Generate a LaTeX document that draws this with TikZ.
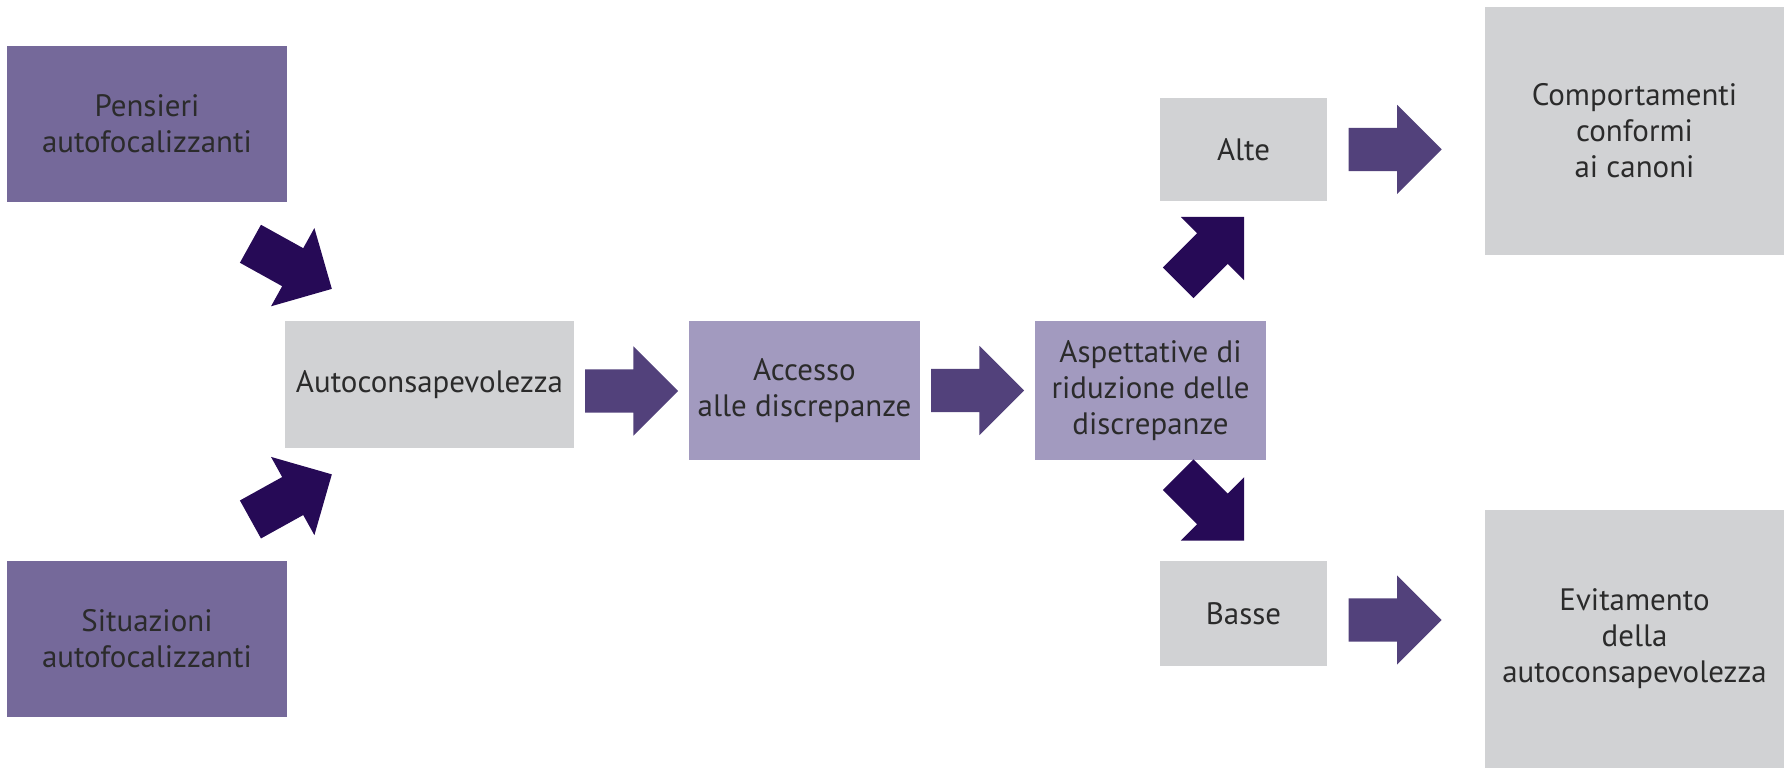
\documentclass[tikz,border=0pt]{standalone}
\usepackage{fontspec}
\setmainfont{PT Sans}
\usetikzlibrary{shapes.arrows}
\usetikzlibrary{calc}

\definecolor{darkbox}{HTML}{75699A}
\definecolor{lightbox}{HTML}{A29ABF}
\definecolor{greybox}{HTML}{D1D2D4}
\definecolor{flowarrow}{HTML}{52417B}
\definecolor{splitarrow}{HTML}{260A56}
\definecolor{boxtext}{HTML}{2B2B2B}

\tikzset{
  box/.style={rectangle,inner sep=0pt,align=center,text=boxtext,font=\fontsize{8.8}{10.2}\selectfont},
  bigarrow/.style={single arrow,draw=none,inner xsep=0pt,inner ysep=0.21cm,minimum height=0.93cm,
    single arrow head extend=0.23cm,single arrow tip angle=90,rotate=#1,xshift=-0.107cm},
  bigarrow/.default=0
}

\begin{document}
\begin{tikzpicture}[x=0.01cm,y=-0.01cm]
\useasboundingbox (0,0) rectangle (1789,768);

% left column
\node[box,fill=darkbox,minimum width=2.8cm,minimum height=1.55cm] (pens) at (147,124) {Pensieri\\autofocalizzanti};
\node[box,fill=darkbox,minimum width=2.8cm,minimum height=1.56cm] (situ) at (147,639) {Situazioni\\autofocalizzanti};

% middle row
\node[box,fill=greybox,minimum width=2.89cm,minimum height=1.27cm] (auto) at (429.5,384.5) {Autoconsapevolezza};
\node[box,fill=lightbox,minimum width=2.31cm,minimum height=1.39cm] (acc) at (804.5,390.5) {Accesso\\alle discrepanze};
\node[box,fill=lightbox,minimum width=2.31cm,minimum height=1.39cm] (asp) at (1150.5,390.5) {Aspettative di\\riduzione delle\\discrepanze};

% outcomes
\node[box,fill=greybox,minimum width=1.67cm,minimum height=1.03cm] (alte) at (1243.5,149.5) {Alte};
\node[box,fill=greybox,minimum width=1.67cm,minimum height=1.05cm] (basse) at (1243.5,613.5) {Basse};
\node[box,fill=greybox,minimum width=2.99cm,minimum height=2.48cm] (comp) at (1634.5,131) {Comportamenti\\conformi\\ai canoni};
\node[box,fill=greybox,minimum width=2.99cm,minimum height=2.58cm] (evit) at (1634.5,639) {Evitamento\\della\\autoconsapevolezza};

% arrows
\node[xshift=0.05cm,yshift=-0.05cm,bigarrow=-29,fill=splitarrow] (p2a) at ($(pens.south east)!0.5!(auto.north west)$) {};
\node[xshift=0.05cm,yshift=0.075cm,bigarrow=29,fill=splitarrow] (s2a) at ($(situ.north east)!0.5!(auto.south west)$) {};
\node[yshift=-0.035cm,bigarrow,fill=flowarrow] (a2c) at ($(auto.east)!0.5!(acc.west)$) {};
\node[bigarrow,fill=flowarrow] (c2s) at ($(acc.east)!0.5!(asp.west)$) {};
\node[xshift=0.14cm,yshift=0.11cm,bigarrow=45,fill=splitarrow] (s2h) at ($(asp.north)!0.5!(alte.south)$) {};
\node[xshift=0.14cm,yshift=0.03cm,bigarrow=-45,fill=splitarrow] (s2l) at ($(asp.south)!0.5!(basse.north)$) {};
\node[bigarrow,fill=flowarrow] (h2c) at ($(alte.east)!0.43!(alte.east -| comp.west)$) {};
\node[yshift=-0.065cm,bigarrow,fill=flowarrow] (l2e) at ($(basse.east)!0.43!(basse.east -| evit.west)$) {};

\end{tikzpicture}
\end{document}
